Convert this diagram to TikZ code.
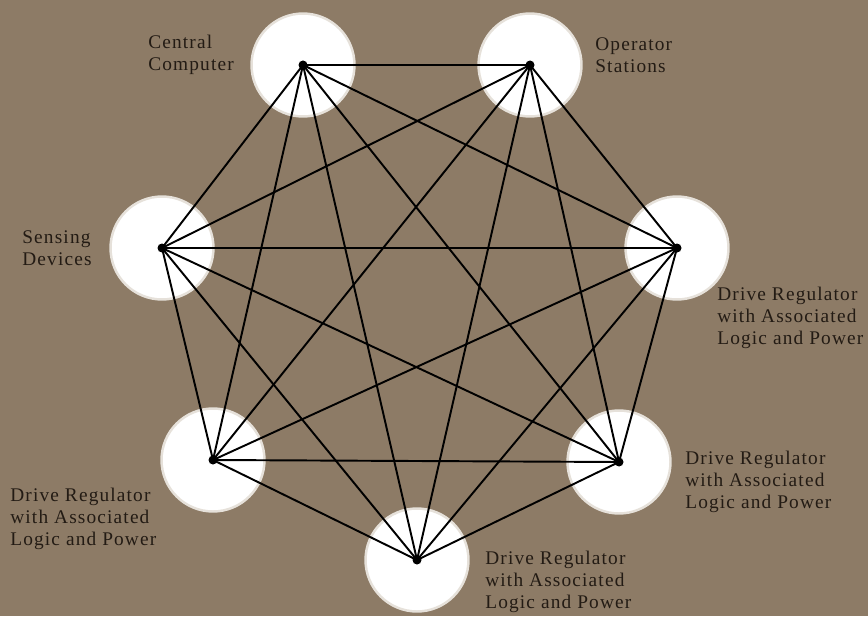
\documentclass[tikz,border=0pt]{standalone}
\usepackage{fontspec}
\newfontfamily\labelfont[LetterSpace=6]{Liberation Serif}
\definecolor{bgbrown}{HTML}{8D7B66}
\definecolor{inkdark}{HTML}{231B14}
\definecolor{halo}{HTML}{E6E1DA}

\tikzset{
  unit/.style={circle,fill=white,draw=halo,line width=1.4pt,inner sep=0pt,minimum size=2.06cm},
  link/.style={draw=black,line width=1.1pt},
  tag/.style={anchor=west,inner sep=0pt,align=left,text=inkdark,
    font=\labelfont\fontsize{11}{12.4}\selectfont}
}

\begin{document}
\begin{tikzpicture}[x=0.02cm,y=0.02cm]
\fill[bgbrown] (0,0) rectangle (868,616);
\useasboundingbox (0,0) rectangle (868,616);

% the seven units
\node[unit] (cc)   at (303,551) {};
\node[unit] (os)   at (530,551) {};
\node[unit] (drr)  at (677,368) {};
\node[unit] (drbr) at (619,154) {};
\node[unit] (drb)  at (417,56)  {};
\node[unit] (drbl) at (213,156) {};
\node[unit] (sd)   at (162,368) {};

% every unit linked to every other one
\foreach \u [count=\i] in {cc,os,drr,drbr,drb,drbl,sd}{
  \foreach \v [count=\j] in {cc,os,drr,drbr,drb,drbl,sd}{
    \ifnum\j>\i
      \draw[link] (\u.center) -- (\v.center);
    \fi
  }
  \fill[black] (\u.center) circle (4.5);
}

% labels
\node[tag] (cctag)   at (148,561) {Central\\Computer};
\node[tag] (ostag)   at (595,561) {Operator\\Stations};
\node[tag] (sdtag)   at (22,368)  {Sensing\\Devices};
\node[tag] (drrtag)  at (717,298) {Drive Regulator\\with Associated\\Logic and Power};
\node[tag] (drbrtag) at (685,134) {Drive Regulator\\with Associated\\Logic and Power};
\node[tag] (drbtag)  at (485,34)  {Drive Regulator\\with Associated\\Logic and Power};
\node[tag] (drbltag) at (10,97)   {Drive Regulator\\with Associated\\Logic and Power};
\end{tikzpicture}
\end{document}
